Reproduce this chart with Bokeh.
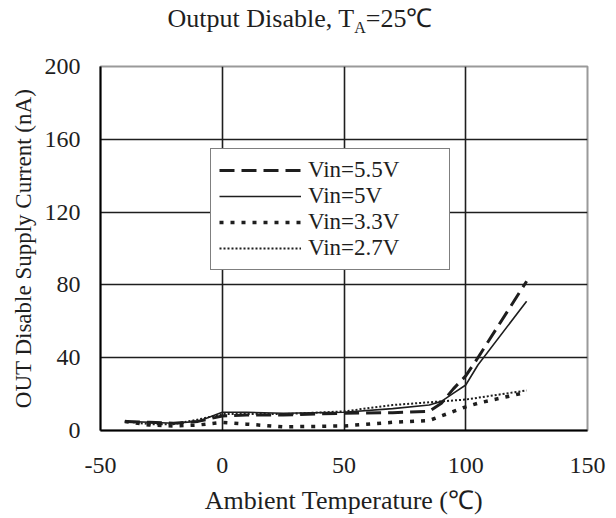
from bokeh.plotting import figure
from bokeh.models import ColumnDataSource, Legend, LegendItem, FixedTicker, Range1d, Div
from bokeh.layouts import column
from bokeh.embed import file_html
from bokeh.resources import INLINE

# ---- data ----
temp_c = [-40, -30, -20, -10, 0, 10, 25, 50, 70, 85, 90, 95, 100, 105, 125]
i_vin55 = [5, 4.5, 4, 5, 8, 8.5, 8.5, 9.5, 9.8, 10.5, 15, 23, 30, 40, 82]
i_vin50 = [5, 4.5, 4, 5, 10, 10, 9.5, 10, 12, 14, 16, 20.5, 25, 36, 71]
i_vin33 = [5, 3, 2.5, 3, 4.5, 3.5, 2, 2.5, 4.5, 5.5, 8, 10.5, 13, 15, 21]
i_vin27 = [5, 3.5, 3.5, 6, 9, 9, 9, 10.5, 14, 15.5, 16, 16.5, 17, 18, 22]
series_labels = ["Vin=5.5V", "Vin=5V", "Vin=3.3V", "Vin=2.7V"]
x_ticks = [-50, 0, 50, 100, 150]
y_ticks = [0, 40, 80, 120, 160, 200]

FONT = "Liberation Serif"
INK = "#1e1e1e"

src = ColumnDataSource(dict(t=temp_c, v55=i_vin55, v50=i_vin50, v33=i_vin33, v27=i_vin27))

title = Div(
    text=('<div style="width:600px;text-align:center;font-family:\'Liberation Serif\';'
          'font-size:26px;line-height:26px;padding-top:6px;color:#1e1e1e;">'
          'Output Disable, T<sub style="font-size:16px;line-height:0;">A</sub>=25℃</div>'),
    width=616, height=40, margin=0)

p = figure(width=616, height=478, x_range=Range1d(-50, 150), y_range=Range1d(0, 200),
           output_backend="svg", toolbar_location=None,
           min_border_left=100, min_border_right=29, min_border_top=26, min_border_bottom=88)
p.margin = 0
p.background_fill_color = "white"
p.border_fill_color = "white"
p.outline_line_color = "#9a9a9a"
p.outline_line_width = 2

# axes
for ax in (p.xaxis[0], p.yaxis[0]):
    ax.axis_line_color = "black"
    ax.axis_line_width = 2
    ax.major_tick_in = 0
    ax.major_tick_out = 0
    ax.minor_tick_in = 0
    ax.minor_tick_out = 0
    ax.major_label_text_font = FONT
    ax.major_label_text_font_size = "24px"
    ax.major_label_text_color = INK
    ax.axis_label_text_font = FONT
    ax.axis_label_text_font_style = "normal"
    ax.axis_label_text_color = INK

p.xaxis.ticker = FixedTicker(ticks=x_ticks)
p.yaxis.ticker = FixedTicker(ticks=y_ticks)
p.xaxis.major_label_overrides = {t: str(t) for t in x_ticks}
p.xaxis.major_label_standoff = 27
p.yaxis.major_label_standoff = 20
p.xaxis.axis_label = "Ambient Temperature (℃)"
p.yaxis.axis_label = "OUT Disable Supply Current (nA)"
p.xaxis.axis_label_standoff = 10
p.yaxis.axis_label_standoff = 6
p.xaxis.axis_label_text_font_size = "26px"
p.yaxis.axis_label_text_font_size = "23px"

# grid
p.xgrid.ticker = FixedTicker(ticks=[0, 50, 100])
p.ygrid.ticker = FixedTicker(ticks=[40, 80, 120, 160])
for g in (p.xgrid[0], p.ygrid[0]):
    g.grid_line_color = INK
    g.grid_line_width = 1.6
    g.grid_line_alpha = 1.0

# series
r55 = p.line("t", "v55", source=src, line_color=INK, line_width=3, line_dash="15 7")
r50 = p.line("t", "v50", source=src, line_color=INK, line_width=1.6)
r33 = p.line("t", "v33", source=src, line_color=INK, line_width=3.5, line_dash="4 7")
r27 = p.line("t", "v27", source=src, line_color=INK, line_width=2, line_dash="2 2")

legend = Legend(items=[LegendItem(label=series_labels[0], renderers=[r55]),
                       LegendItem(label=series_labels[1], renderers=[r50]),
                       LegendItem(label=series_labels[2], renderers=[r33]),
                       LegendItem(label=series_labels[3], renderers=[r27])],
                location=(110, 160))
legend.label_text_font = FONT
legend.label_text_font_size = "23px"
legend.label_text_color = INK
legend.label_height = 25
legend.glyph_height = 20
legend.glyph_width = 82
legend.label_standoff = 7
legend.label_width = 133
legend.spacing = 0
legend.padding = 8
legend.border_line_color = "black"
legend.border_line_width = 1.6
legend.background_fill_color = "white"
legend.background_fill_alpha = 1.0
p.add_layout(legend, "center")

layout = column(title, p, spacing=0, margin=0)
open("out.html", "w").write(file_html(layout, INLINE))
